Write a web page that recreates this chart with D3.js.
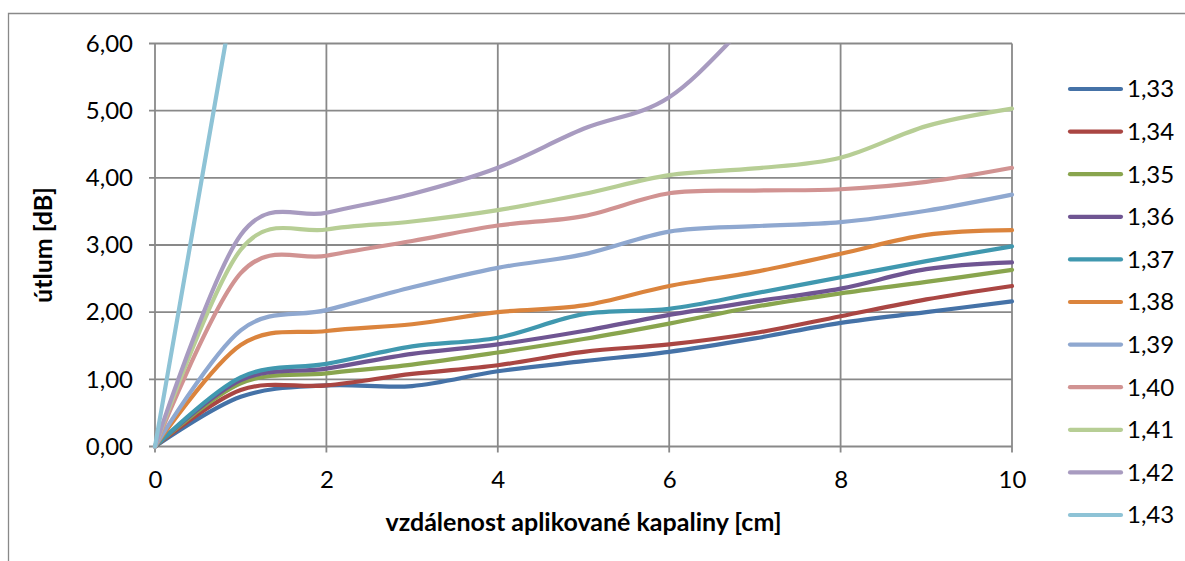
<!DOCTYPE html>
<html>
<head>
<meta charset="utf-8">
<script src="https://cdn.jsdelivr.net/npm/d3@7/dist/d3.min.js"></script>
<style>
  body { margin: 0; background: #fff; }
  svg { display: block; font-family: Lato, "Open Sans", sans-serif; }
</style>
</head>
<body>
<svg id="chart" width="1185" height="561"></svg>
<script>
// Distance of the applied liquid [cm]
const distances = [0, 1, 2, 3, 4, 5, 6, 7, 8, 9, 10];

// Refractive index of each liquid (legend labels)
const seriesNames = ["1,33", "1,34", "1,35", "1,36", "1,37", "1,38", "1,39", "1,40", "1,41", "1,42", "1,43"];

// Attenuation [dB] per distance, one array per liquid
const s133 = [0, 0.74, 0.91, 0.90, 1.12, 1.27, 1.41, 1.61, 1.84, 2.00, 2.16];
const s134 = [0, 0.84, 0.91, 1.08, 1.21, 1.41, 1.52, 1.69, 1.94, 2.19, 2.39];
const s135 = [0, 0.94, 1.09, 1.22, 1.40, 1.60, 1.83, 2.08, 2.28, 2.45, 2.63];
const s136 = [0, 0.99, 1.16, 1.38, 1.52, 1.72, 1.96, 2.16, 2.35, 2.64, 2.74];
const s137 = [0, 1.03, 1.23, 1.49, 1.62, 1.97, 2.05, 2.28, 2.52, 2.76, 2.98];
const s138 = [0, 1.51, 1.72, 1.82, 2.00, 2.10, 2.39, 2.60, 2.87, 3.15, 3.22];
const s139 = [0, 1.73, 2.03, 2.37, 2.66, 2.86, 3.20, 3.28, 3.34, 3.51, 3.75];
const s140 = [0, 2.58, 2.84, 3.06, 3.29, 3.43, 3.77, 3.81, 3.83, 3.94, 4.15];
const s141 = [0, 2.93, 3.23, 3.35, 3.52, 3.76, 4.04, 4.14, 4.30, 4.77, 5.03];
const s142 = [0, 3.15, 3.48, 3.76, 4.15, 4.73, 5.20, 6.40, 7.60, null, null];
const s143 = [0, 7.30, null, null, null, null, null, null, null, null, null];

const seriesValues = [s133, s134, s135, s136, s137, s138, s139, s140, s141, s142, s143];

// Axis tick values
const xTicks = [0, 2, 4, 6, 8, 10];
const yTicks = [0, 1, 2, 3, 4, 5, 6];

const seriesColors = ["#4572A7", "#AA4643", "#89A54E", "#6F5592", "#4098AF", "#DB843D",
                      "#8FA8D0", "#D19392", "#B7CE95", "#A89BC0", "#8EC3D6"];

const svg = d3.select("#chart");
const gridColor = "#898989";

// Outer chart frame
svg.append("path")
  .attr("d", "M8.5,561 V13.5 H1185")
  .attr("fill", "none")
  .attr("stroke", gridColor)
  .attr("stroke-width", 1.3);

const plot = { left: 155, right: 1012, top: 43.5, bottom: 446.5 };

const x = d3.scaleLinear().domain([0, 10]).range([plot.left, plot.right]);
const y = d3.scaleLinear().domain([0, 6]).range([plot.bottom, plot.top]);

const fmt = v => d3.format(".2f")(v).replace(".", ",");

// Grid
const grid = svg.append("g").attr("stroke", gridColor).attr("stroke-width", 1.8);
grid.selectAll("line.h").data(yTicks).join("line")
  .attr("class", "h")
  .attr("x1", plot.left - 6).attr("x2", plot.right)
  .attr("y1", d => y(d)).attr("y2", d => y(d));
grid.selectAll("line.v").data(xTicks).join("line")
  .attr("class", "v")
  .attr("x1", d => x(d)).attr("x2", d => x(d))
  .attr("y1", plot.top).attr("y2", plot.bottom + 6);

// Axes (labels only; lines drawn by the grid)
const yAxis = svg.append("g")
  .attr("transform", `translate(${plot.left},0)`)
  .call(d3.axisLeft(y).tickValues(yTicks).tickFormat(fmt).tickSize(0).tickPadding(22));
yAxis.select(".domain").remove();
yAxis.selectAll("text").attr("font-size", 24).attr("fill", "#000")
  .attr("font-family", "Lato, sans-serif");

const xAxis = svg.append("g")
  .attr("transform", `translate(0,${plot.bottom})`)
  .call(d3.axisBottom(x).tickValues(xTicks).tickFormat(d3.format("d")).tickSize(0).tickPadding(24));
xAxis.select(".domain").remove();
xAxis.selectAll("text").attr("font-size", 24).attr("fill", "#000")
  .attr("font-family", "Lato, sans-serif");

// Axis titles
svg.append("text")
  .attr("x", (plot.left + plot.right) / 2)
  .attr("y", 531)
  .attr("text-anchor", "middle")
  .attr("font-size", 25)
  .attr("font-weight", "bold")
  .text("vzdálenost aplikované kapaliny [cm]");

svg.append("text")
  .attr("transform", `translate(52,${(plot.top + plot.bottom) / 2}) rotate(-90)`)
  .attr("text-anchor", "middle")
  .attr("font-size", 25)
  .attr("font-weight", "bold")
  .text("útlum [dB]");

// Series lines, clipped to the plot area
svg.append("clipPath").attr("id", "plotClip")
  .append("rect")
  .attr("x", plot.left - 3).attr("y", plot.top)
  .attr("width", plot.right - plot.left + 6).attr("height", plot.bottom - plot.top + 3);

const line = d3.line()
  .defined(d => d.v != null)
  .x(d => x(d.x))
  .y(d => y(d.v))
  .curve(d3.curveCardinal.tension(0));

const lines = svg.append("g").attr("clip-path", "url(#plotClip)");
seriesValues.forEach((vals, i) => {
  lines.append("path")
    .datum(distances.map((d, j) => ({ x: d, v: vals[j] })))
    .attr("d", line)
    .attr("fill", "none")
    .attr("stroke", seriesColors[i])
    .attr("stroke-width", 4.2)
    .attr("stroke-linecap", "round")
    .attr("stroke-linejoin", "round");
});

// Legend
const legend = svg.append("g");
const rows = legend.selectAll("g").data(seriesNames).join("g")
  .attr("transform", (d, i) => `translate(0,${89 + i * 42.6})`);
rows.append("line")
  .attr("x1", 1070).attr("x2", 1121)
  .attr("y1", 0).attr("y2", 0)
  .attr("stroke", (d, i) => seriesColors[i])
  .attr("stroke-width", 4.2)
  .attr("stroke-linecap", "round");
rows.append("text")
  .attr("x", 1127)
  .attr("y", 0)
  .attr("dy", "0.35em")
  .attr("font-size", 24)
  .text(d => d);
</script>
</body>
</html>
